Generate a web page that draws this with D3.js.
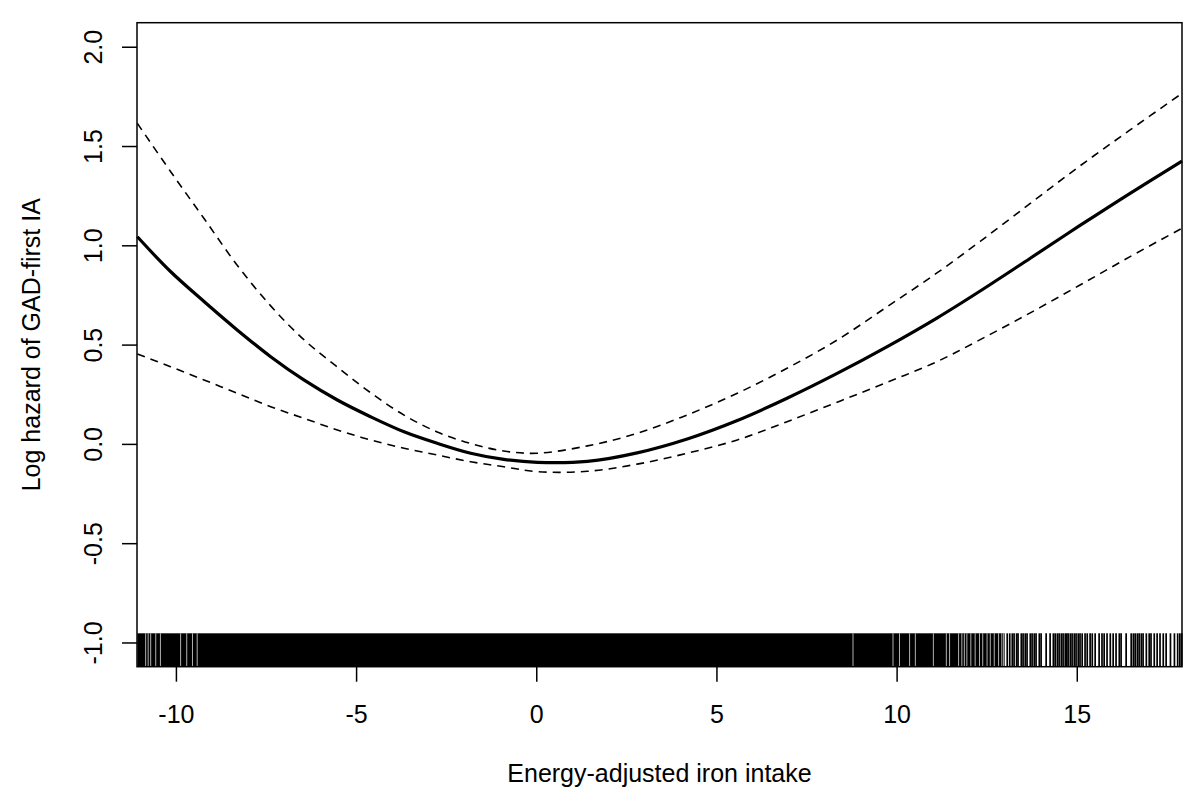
<!DOCTYPE html>
<html lang="en">
<head>
<meta charset="UTF-8">
<title>Log hazard of GAD-first IA</title>
<style>
  body { margin: 0; background: #fff; }
  svg text { font-family: "Liberation Sans", Arial, sans-serif; fill: #000; }
</style>
</head>
<body>
<svg id="chart" width="1200" height="792"></svg>
<script src="https://d3js.org/d3.v7.min.js"></script>
<script>
// values
const xVals = [-11.07, -10.15, -9.22, -8.30, -7.37, -6.45, -5.52, -4.60, -3.67, -2.75, -1.82, -0.90, 0.03,
               1.42, 2.80, 4.19, 5.58, 6.96, 8.35, 9.74, 11.13, 12.32, 13.71, 15.09, 16.48, 17.92];
const fit   = [1.043, 0.868, 0.717, 0.574, 0.439, 0.322, 0.221, 0.137, 0.061, 0.003, -0.047, -0.078, -0.093,
               -0.088, -0.045, 0.025, 0.118, 0.230, 0.355, 0.490, 0.635, 0.770, 0.935, 1.100, 1.262, 1.424];
const upper = [1.614, 1.372, 1.135, 0.900, 0.695, 0.525, 0.387, 0.258, 0.145, 0.060, 0.002, -0.036, -0.047,
               -0.010, 0.053, 0.146, 0.255, 0.381, 0.523, 0.691, 0.862, 1.020, 1.211, 1.400, 1.581, 1.765];
const lower = [0.453, 0.389, 0.322, 0.255, 0.187, 0.129, 0.070, 0.020, -0.022, -0.056, -0.090, -0.115, -0.140,
               -0.138, -0.102, -0.047, 0.020, 0.112, 0.210, 0.310, 0.415, 0.525, 0.660, 0.800, 0.943, 1.086];

// rug: solid run of observations, white gaps inside it, and single ticks past it
const rugRun = [-11.07, 13.0];
const rugGaps = [-10.84, -10.77, -10.70, -10.56, -10.43, -9.87, -9.70, -9.54, -9.41,
                 8.79, 9.90, 10.08, 10.36, 10.52, 11.02, 11.38, 11.47, 11.72, 11.81, 11.88, 11.95,
                 12.06, 12.18, 12.30, 12.39, 12.51, 12.60, 12.71, 12.83, 12.92, 12.97];
const rugTicks = [13.07, 13.14, 13.21, 13.26, 13.33, 13.37, 13.46, 13.51, 13.57, 13.62, 13.71, 13.76,
                  13.82, 13.87, 13.96, 14.01, 14.15, 14.26, 14.35, 14.40, 14.46, 14.51, 14.57, 14.62,
                  14.68, 14.72, 14.76, 14.82, 14.87, 14.93, 14.98, 15.04, 15.09, 15.15, 15.23, 15.29,
                  15.37, 15.43, 15.51, 15.62, 15.70, 15.76, 15.84, 15.93, 16.01, 16.09, 16.18, 16.23,
                  16.37, 16.51, 16.57, 16.62, 16.68, 16.73, 16.79, 16.84, 16.93, 17.01, 17.06, 17.15,
                  17.23, 17.31, 17.40, 17.48, 17.60, 17.71, 17.80, 17.86, 17.91];

const xTicks = [-10, -5, 0, 5, 10, 15];
const yTicks = [-1.0, -0.5, 0.0, 0.5, 1.0, 1.5, 2.0];

const margin = { top: 22.7, right: 18, bottom: 125.3, left: 137 };
const width = 1200, height = 792;

const svg = d3.select("#chart");

const x = d3.scaleLinear()
    .domain([-11.08, 17.92])
    .range([margin.left, width - margin.right]);

const y = d3.scaleLinear()
    .domain([-1.122, 2.121])
    .range([height - margin.bottom, margin.top]);

const plotBottom = height - margin.bottom;
const rugLen = 33.4;

// rug
const rug = svg.append("g");
rug.append("rect")
    .attr("x", x(rugRun[0]))
    .attr("y", plotBottom - rugLen)
    .attr("width", x(rugRun[1]) - x(rugRun[0]))
    .attr("height", rugLen)
    .attr("fill", "#000");
rug.selectAll("line.gap")
    .data(rugGaps)
    .enter().append("line")
    .attr("class", "gap")
    .attr("x1", d => x(d)).attr("x2", d => x(d))
    .attr("y1", plotBottom - rugLen).attr("y2", plotBottom)
    .attr("stroke", "#ddd")
    .attr("stroke-width", 0.8);
rug.selectAll("line.tick")
    .data(rugTicks)
    .enter().append("line")
    .attr("class", "tick")
    .attr("x1", d => x(d)).attr("x2", d => x(d))
    .attr("y1", plotBottom - rugLen).attr("y2", plotBottom)
    .attr("stroke", "#000")
    .attr("stroke-width", 1.7);

// curves
const pts = vals => xVals.map((v, i) => [v, vals[i]]);
const line = d3.line()
    .x(d => x(d[0]))
    .y(d => y(d[1]))
    .curve(d3.curveCatmullRom.alpha(0.5));

svg.append("path")
    .attr("d", line(pts(upper)))
    .attr("fill", "none")
    .attr("stroke", "#000")
    .attr("stroke-width", 1.6)
    .attr("stroke-dasharray", "8,6");

svg.append("path")
    .attr("d", line(pts(lower)))
    .attr("fill", "none")
    .attr("stroke", "#000")
    .attr("stroke-width", 1.6)
    .attr("stroke-dasharray", "8,6");

svg.append("path")
    .attr("d", line(pts(fit)))
    .attr("fill", "none")
    .attr("stroke", "#000")
    .attr("stroke-width", 3.2);

// axes
const xAxis = svg.append("g")
    .attr("transform", `translate(0, ${plotBottom})`)
    .call(d3.axisBottom(x).tickValues(xTicks).tickSize(15).tickFormat(d3.format("d")));
xAxis.select(".domain").remove();
xAxis.selectAll("line").attr("stroke-width", 1.5);
xAxis.selectAll("text")
    .attr("y", 56).attr("dy", 0)
    .style("font-size", "25px")
    .text(d => d < 0 ? "-" + Math.abs(d) : d);

const yAxis = svg.append("g")
    .attr("transform", `translate(${margin.left}, 0)`)
    .call(d3.axisLeft(y).tickValues(yTicks).tickSize(15).tickFormat(d3.format(".1f")));
yAxis.select(".domain").remove();
yAxis.selectAll("line").attr("stroke-width", 1.5);
yAxis.selectAll("text")
    .attr("transform", "rotate(-90)")
    .attr("x", 0).attr("y", -35.3).attr("dy", 0)
    .attr("text-anchor", "middle")
    .style("font-size", "25px")
    .text(d => (d < 0 ? "-" : "") + Math.abs(d).toFixed(1));

// plot box
svg.append("rect")
    .attr("x", margin.left)
    .attr("y", margin.top)
    .attr("width", width - margin.right - margin.left)
    .attr("height", plotBottom - margin.top)
    .attr("fill", "none")
    .attr("stroke", "#000")
    .attr("stroke-width", 1.5);

// titles
svg.append("text")
    .attr("x", (margin.left + width - margin.right) / 2)
    .attr("y", 782)
    .attr("text-anchor", "middle")
    .style("font-size", "25px")
    .text("Energy-adjusted iron intake");

svg.append("text")
    .attr("transform", `translate(40, ${(margin.top + plotBottom) / 2}) rotate(-90)`)
    .attr("text-anchor", "middle")
    .style("font-size", "25px")
    .text("Log hazard of GAD-first IA");
</script>
</body>
</html>
